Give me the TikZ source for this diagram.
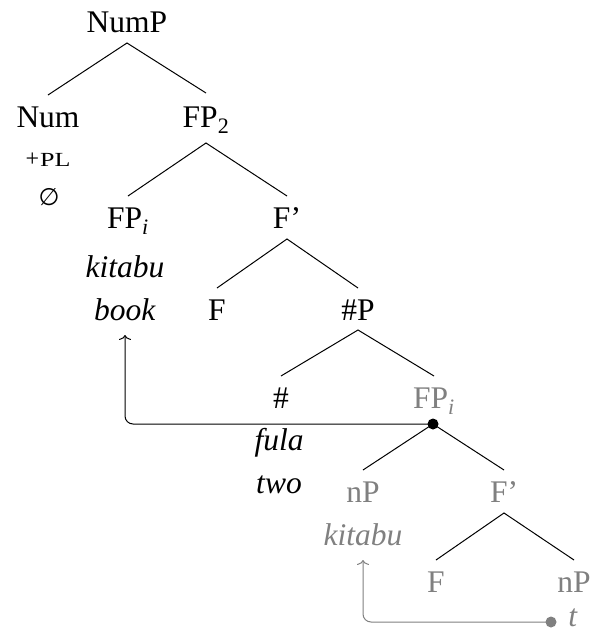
\documentclass[tikz,border=0pt]{standalone}
\usepackage{fontspec}
\usetikzlibrary{arrows.meta}
\setmainfont{Liberation Serif}
\newfontfamily\symfnt{DejaVu Sans}
\begin{document}
\begin{tikzpicture}[x=1pt,y=-1pt,
  lbl/.style={anchor=base,inner sep=0pt,font=\fontsize{31.5}{36}\selectfont},
  gr/.style={text=black!50},
  edge/.style={line width=1pt},
  mv/.style={line width=1pt,-{Computer Modern Rightarrow[length=5pt,width=12pt]},rounded corners=8pt},
]
\useasboundingbox (0,0) rectangle (602,632);

% level 0
\node[lbl] (NumP) at (127,32) {NumP};
% level 1
\node[lbl] (Num) at (48,127) {Num};
\node[lbl] (FP2) at (206,127) {FP\textsubscript{2}};
\node[lbl,font=\fontsize{24}{28}\selectfont] (pl) at (48,166) {+\kern1pt{\fontsize{20}{24}\selectfont\scalebox{1.3}[1]{PL}}};
\node[anchor=center,inner sep=0pt,font=\symfnt\fontsize{24}{28}\selectfont] (empty) at (49,197) {∅};
% level 2
\node[lbl] (FPi) at (128,228) {FP\textsubscript{\textit{i}}};
\node[lbl] (Fbar) at (287,228) {F’};
\node[lbl] (kitabu) at (125,277) {\textit{kitabu}};
\node[lbl] (book) at (125,320) {\textit{book}};
% level 3
\node[lbl] (F) at (217,320) {F};
\node[lbl] (numP) at (358,320) {\#P};
% level 4
\node[lbl] (num) at (281,408) {\#};
\node[lbl,gr] (FPi2) at (434,408) {FP\textsubscript{\textit{i}}};
\node[lbl] (fula) at (279,450) {\textit{fula}};
\node[lbl] (two) at (279,493) {\textit{two}};
\coordinate (dot1) at (433,424);
% level 5
\node[lbl,gr] (nP) at (363,502) {nP};
\node[lbl,gr] (Fbar2) at (504,502) {F’};
\node[lbl,gr] (kitabu2) at (363,545) {\textit{kitabu}};
% level 6
\node[lbl,gr] (F2) at (436,592) {F};
\node[lbl,gr] (nP2) at (574,592) {nP};
\node[lbl,gr] (t) at (573,626) {\textit{t}};
\coordinate (dot2) at (551,622);

% edges
\draw[edge] ([yshift=32pt]Num.base) -- ([yshift=-11pt]NumP.base) -- ([yshift=34pt]FP2.base);
\draw[edge] ([yshift=32pt]FPi.base) -- ([yshift=-16pt]FP2.base) -- ([yshift=32pt]Fbar.base);
\draw[edge] ([yshift=32pt]F.base) -- ([yshift=-11pt]Fbar.base) -- ([yshift=32pt]numP.base);
\draw[edge] ([yshift=32pt]num.base) -- ([yshift=-10pt]numP.base) -- ([yshift=32pt]FPi2.base);
\draw[edge] ([yshift=32pt]nP.base) -- (dot1) -- ([yshift=32pt]Fbar2.base);
\draw[edge] ([yshift=32pt]F2.base) -- ([yshift=-11pt]Fbar2.base) -- ([yshift=32pt]nP2.base);

% movement arrows
\draw[mv] (dot1) -| ([yshift=-15pt]book.base);
\draw[mv,black!50] (dot2) -| ([yshift=-15pt]kitabu2.base);
\fill (dot1) circle (5.5pt);
\fill[black!50] (dot2) circle (5.5pt);
\end{tikzpicture}
\end{document}
